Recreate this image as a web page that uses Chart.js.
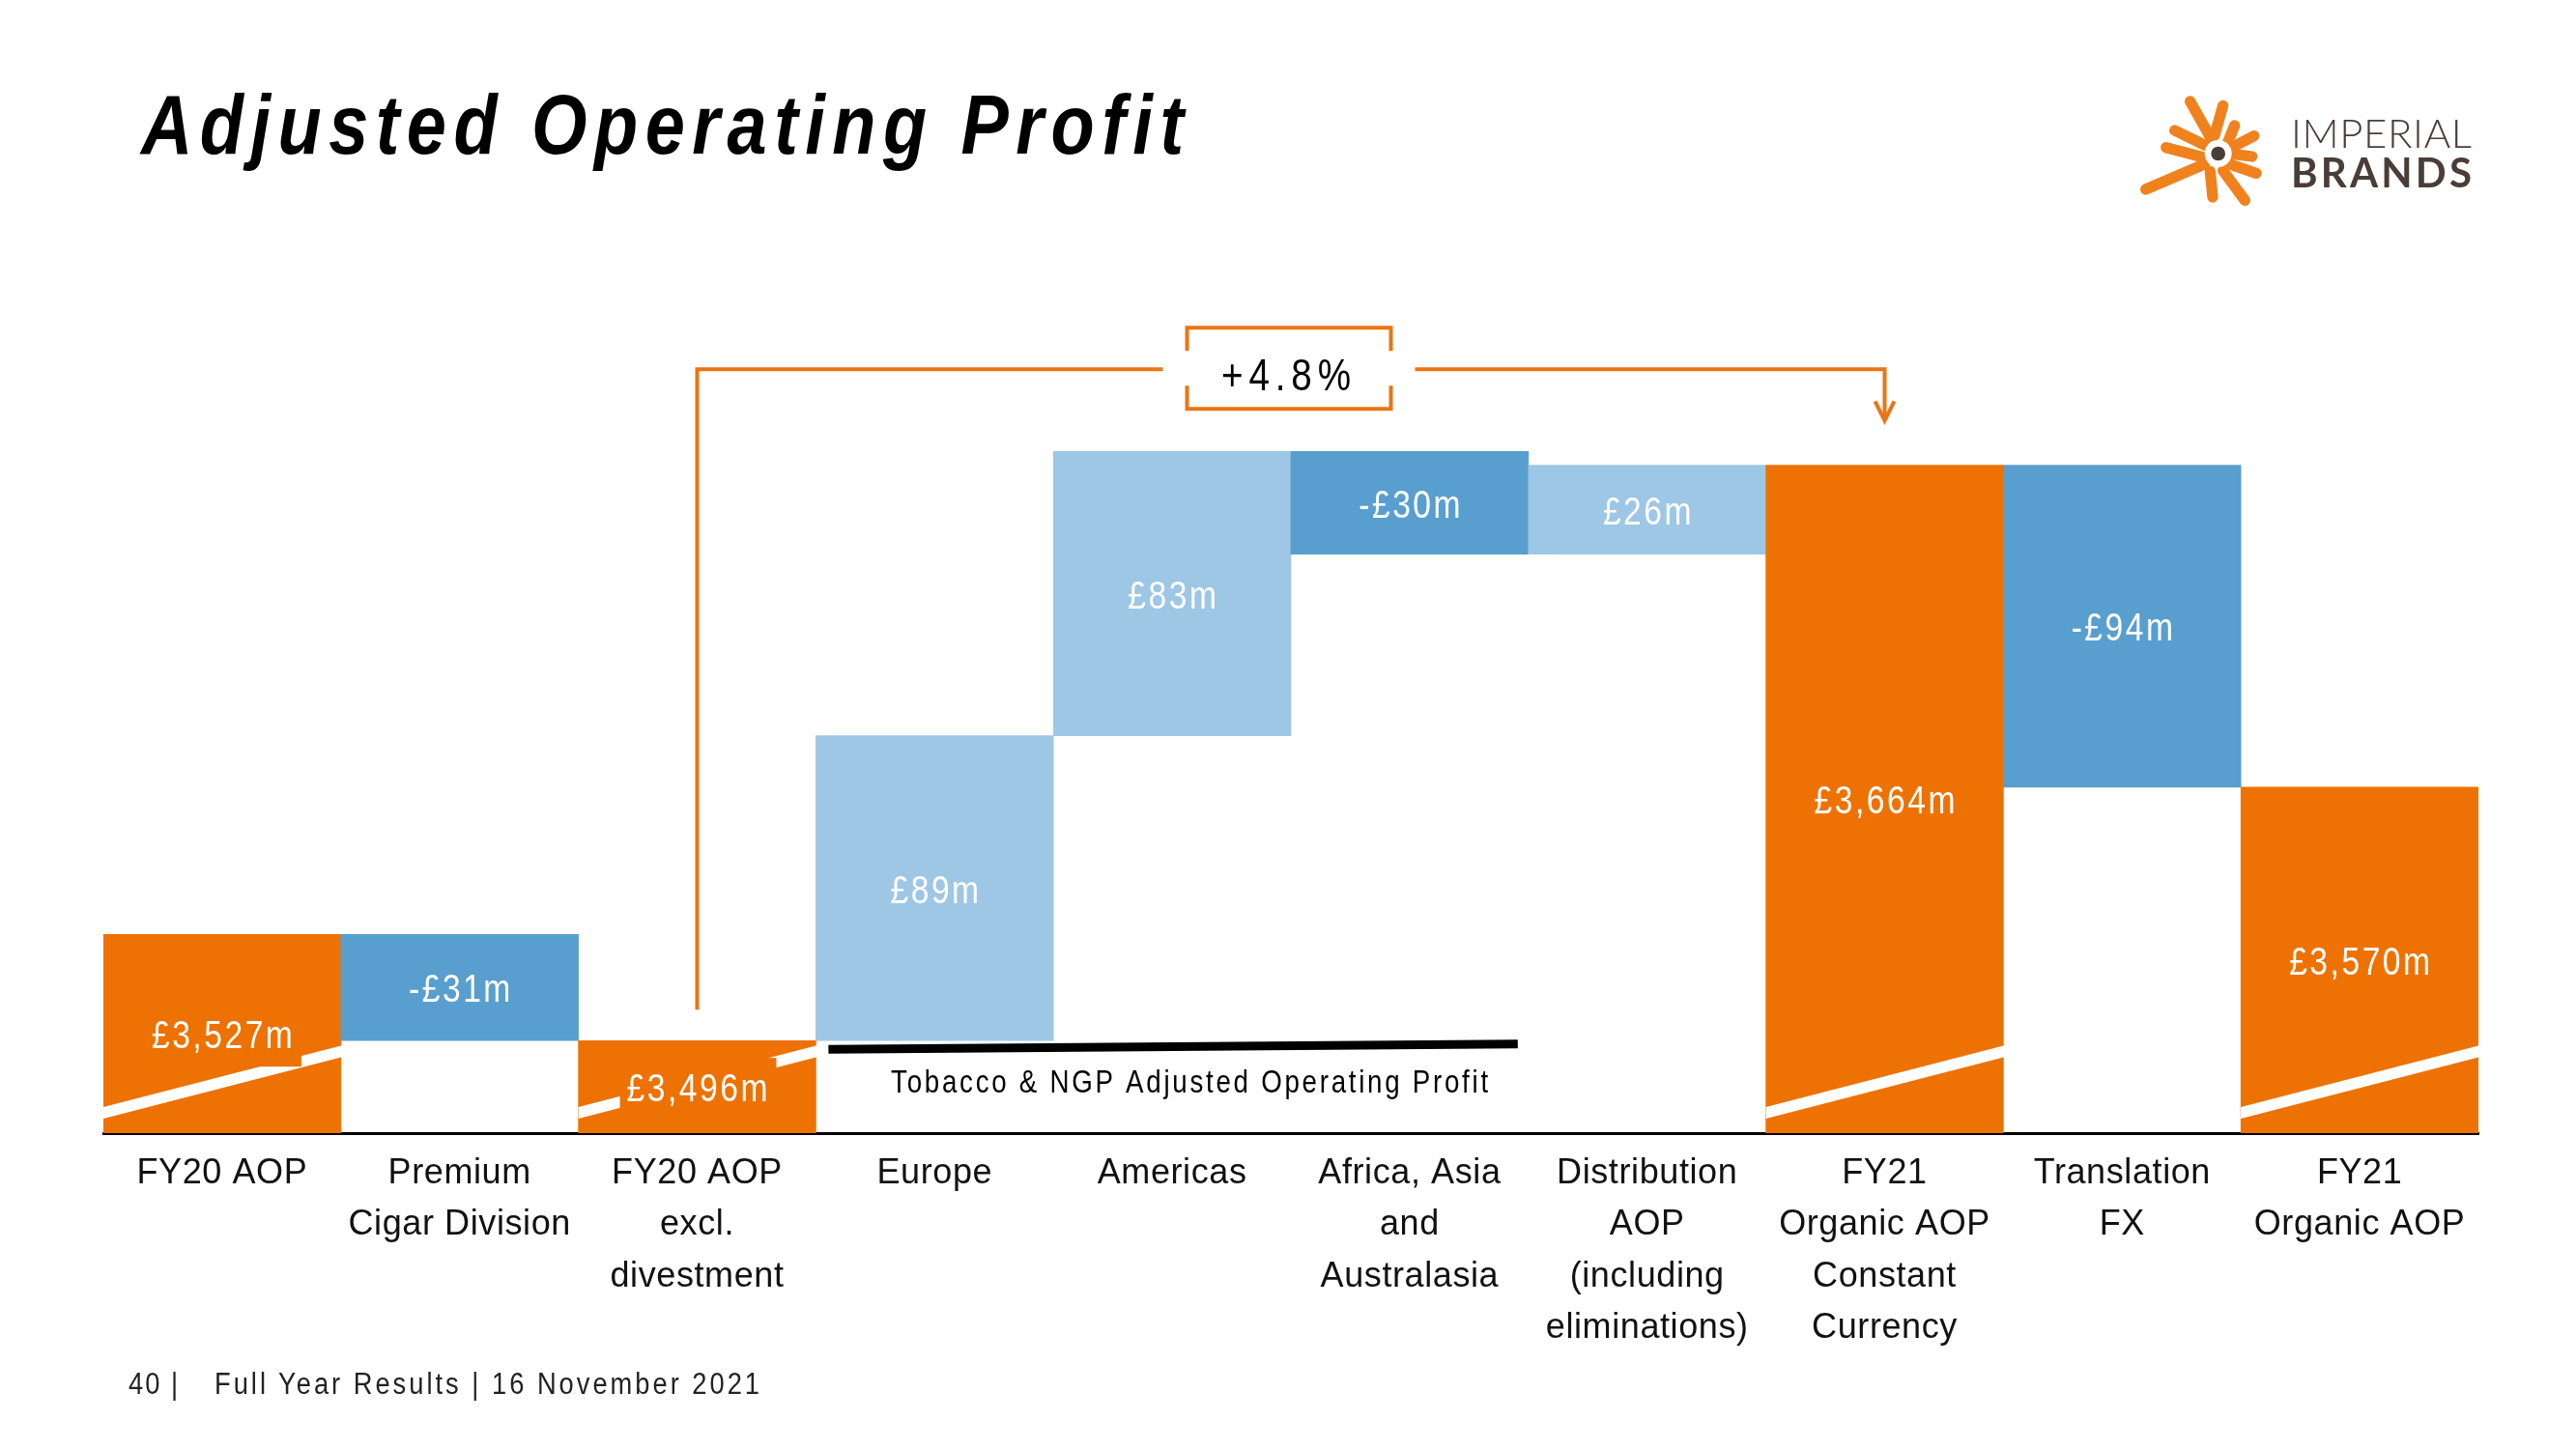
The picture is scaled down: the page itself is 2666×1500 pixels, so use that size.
<!DOCTYPE html>
<html>
<head>
<meta charset="utf-8">
<script src="https://cdn.jsdelivr.net/npm/chart.js@4.4.1/dist/chart.umd.min.js"></script>
<style>
html,body{margin:0;padding:0;background:#fff;}
#wrap{position:relative;width:2666px;height:1500px;overflow:hidden;background:#fff;}
#c{position:absolute;left:0;top:0;width:2666px;height:1500px;}
.t{position:absolute;white-space:nowrap;line-height:1;margin:0;font-family:'Liberation Sans',Arial,sans-serif;transform-origin:0 0;}
#title{left:146px;font-size:88px;font-weight:bold;font-style:italic;color:#000;}
.foot{font-size:31px;color:#222;}
.logo{font-family:Lato,'Open Sans',sans-serif;color:#4a3d37;font-size:42px;}
#logo-svg{position:absolute;left:2200px;top:80px;width:170px;height:150px;}
</style>
</head>
<body>
<div id="wrap">
<canvas id="c" width="2666" height="1500"></canvas>
<div id="title" class="t" data-left="146" data-fit="1079" data-base="159" data-sx="0.84">Adjusted Operating Profit</div>
<div id="f1" class="t foot" data-left="133" data-fit="51" data-base="1443" data-sx="0.88">40 |</div>
<div id="f2" class="t foot" data-left="222" data-fit="564" data-base="1443" data-sx="0.88">Full Year Results | 16 November 2021</div>
<svg id="logo-svg" viewBox="0 0 510 450">
  <g stroke="#F0821E" stroke-width="34" stroke-linecap="round" fill="none">
    <line x1="200" y1="75" x2="262" y2="185"/>
    <line x1="302" y1="88" x2="276" y2="180"/>
    <line x1="152" y1="165" x2="248" y2="212"/>
    <line x1="125" y1="218" x2="245" y2="250"/>
    <line x1="62" y1="348" x2="244" y2="270"/>
    <line x1="262" y1="292" x2="270" y2="372"/>
    <line x1="302" y1="290" x2="370" y2="382"/>
    <line x1="318" y1="268" x2="405" y2="298"/>
    <line x1="338" y1="150" x2="316" y2="204"/>
    <line x1="398" y1="182" x2="326" y2="220"/>
    <line x1="392" y1="246" x2="330" y2="238"/>
  </g>
  <circle cx="287" cy="237" r="42" fill="#fff"/>
  <circle cx="287" cy="237" r="22" fill="#4a3d37"/>
</svg>
<div id="lg1" class="t logo" data-left="2371" data-fit="187" data-base="153" data-sx="1" style="font-weight:300;">IMPERIAL</div>
<div id="lg2" class="t logo" data-left="2371" data-fit="187" data-base="194" data-sx="1" style="font-weight:700;">BRANDS</div>
</div>
<script>
// ---------------- data ----------------
const categories = [
  ['FY20 AOP'],
  ['Premium', 'Cigar Division'],
  ['FY20 AOP', 'excl.', 'divestment'],
  ['Europe'],
  ['Americas'],
  ['Africa, Asia', 'and', 'Australasia'],
  ['Distribution', 'AOP', '(including', 'eliminations)'],
  ['FY21', 'Organic AOP', 'Constant', 'Currency'],
  ['Translation', 'FX'],
  ['FY21', 'Organic AOP']
];
const amounts = [3527, -31, 3496, 89, 83, -30, 26, 3664, -94, 3570];
const barKinds = ['total', 'decrease', 'total', 'increase', 'increase', 'decrease', 'increase', 'total', 'decrease', 'total'];
const valueLabels = ['£3,527m', '-£31m', '£3,496m', '£89m', '£83m', '-£30m', '£26m', '£3,664m', '-£94m', '£3,570m'];
const axisFloor = 3469;
const axisCeiling = 3720;
const growthLabel = '+4.8%';
const growthFromIndex = 2;
const growthToIndex = 7;
const growthLevel = 3692;
const growthStart = 3505;
const growthArrowTip = 3677;
const segmentNote = 'Tobacco & NGP Adjusted Operating Profit';
const segmentFromIndex = 3;
const segmentToIndex = 5;
const segmentLevelLeft = 3493.5;
const segmentLevelRight = 3495;

// ---------------- build ----------------
const colorMap = {total: '#EE7203', decrease: '#589FCF', increase: '#9DC7E4'};
let running = 0;
const ranges = amounts.map((v, i) => {
  if (barKinds[i] === 'total') { running = v; return [axisFloor, v]; }
  const r = [running, running + v];
  running += v;
  return r;
});

const FAM = "'Liberation Sans',Arial,sans-serif";
const ORANGE_LINE = '#EA7514';
const NARROW = 0.84;

function narrowText(ctx, text, cx, y, target, sx) {
  ctx.save();
  ctx.letterSpacing = '0px';
  const w0 = ctx.measureText(text).width;
  const ls = (target / sx - w0) / Math.max(1, text.length - 1);
  ctx.letterSpacing = ls + 'px';
  ctx.textAlign = 'left';
  ctx.translate(cx - target / 2, y);
  ctx.scale(sx, 1);
  ctx.fillText(text, 0, 0);
  ctx.restore();
}
function narrowCentered(ctx, text, cx, y, sx, ls) {
  ctx.save();
  ctx.letterSpacing = ls + 'px';
  const w = (ctx.measureText(text).width - ls) * sx;
  ctx.textAlign = 'left';
  ctx.translate(cx - w / 2, y);
  ctx.scale(sx, 1);
  ctx.fillText(text, 0, 0);
  ctx.restore();
  return w;
}

const deco = {
  id: 'deco',
  beforeDraw(chart) { chart.ctx.letterSpacing = '0.6px'; },
  afterDatasetsDraw(chart) {
    const ctx = chart.ctx;
    const meta = chart.getDatasetMeta(0);
    const y = chart.scales.y;
    ctx.save();
    meta.data.forEach((bar, i) => {
      if (barKinds[i] !== 'total') return;
      const p = bar.getProps(['x', 'width', 'base'], true);
      const l = p.x - p.width / 2, r = p.x + p.width / 2 + 2;
      const rl = 21, rr = 85, th = 12;
      ctx.fillStyle = '#fff';
      ctx.beginPath();
      ctx.moveTo(l, p.base - rl - th / 2);
      ctx.lineTo(r, p.base - rr - th / 2);
      ctx.lineTo(r, p.base - rr + th / 2);
      ctx.lineTo(l, p.base - rl + th / 2);
      ctx.closePath();
      ctx.fill();
    });
    ctx.font = '40px ' + FAM;
    ctx.textBaseline = 'middle';
    meta.data.forEach((bar, i) => {
      const p = bar.getProps(['x', 'y', 'base'], true);
      const cy = (p.y + p.base) / 2;
      ctx.letterSpacing = '3px';
      const w = (ctx.measureText(valueLabels[i]).width - 3) * NARROW;
      if (barKinds[i] === 'total') {
        ctx.fillStyle = colorMap.total;
        ctx.fillRect(p.x - w / 2 - 7, cy - 30, w + 16, 64);
      }
      ctx.fillStyle = '#fff';
      narrowCentered(ctx, valueLabels[i], p.x, cy + 4, NARROW, 3);
    });
    const b1 = meta.data[segmentFromIndex].getProps(['x', 'width'], true);
    const b2 = meta.data[segmentToIndex].getProps(['x', 'width'], true);
    const sx1 = b1.x - b1.width / 2 + 13, sx2 = b2.x + b2.width / 2 - 11;
    ctx.strokeStyle = '#000';
    ctx.lineWidth = 9;
    ctx.beginPath();
    ctx.moveTo(sx1, y.getPixelForValue(segmentLevelLeft));
    ctx.lineTo(sx2, y.getPixelForValue(segmentLevelRight));
    ctx.stroke();
    ctx.font = '33px ' + FAM;
    ctx.fillStyle = '#000';
    ctx.textBaseline = 'alphabetic';
    narrowText(ctx, segmentNote, (sx1 + sx2) / 2 + 17, y.getPixelForValue(segmentLevelLeft) + 45, 618, NARROW);
    ctx.restore();
  },
  afterDraw(chart) {
    const ctx = chart.ctx;
    const meta = chart.getDatasetMeta(0);
    const y = chart.scales.y;
    const xL = meta.data[growthFromIndex].x;
    const xR = meta.data[growthToIndex].x;
    const yl = y.getPixelForValue(growthLevel);
    const ys = y.getPixelForValue(growthStart);
    const yt = y.getPixelForValue(growthArrowTip);
    const cx = (xL + xR) / 2 - 2;
    const bw = 211, bh = 84, gap = 25, tick = 24;
    const bx1 = cx - bw / 2, bx2 = cx + bw / 2;
    const by1 = yl - bh / 2 - 1, by2 = yl + bh / 2 - 1;
    ctx.save();
    ctx.strokeStyle = ORANGE_LINE;
    ctx.lineWidth = 4;
    ctx.lineCap = 'butt';
    ctx.beginPath();
    ctx.moveTo(xL, ys); ctx.lineTo(xL, yl); ctx.lineTo(bx1 - gap, yl);
    ctx.moveTo(bx2 + gap, yl); ctx.lineTo(xR, yl); ctx.lineTo(xR, yt - 2);
    ctx.moveTo(bx1, by1 + tick); ctx.lineTo(bx1, by1); ctx.lineTo(bx2, by1); ctx.lineTo(bx2, by1 + tick);
    ctx.moveTo(bx1, by2 - tick); ctx.lineTo(bx1, by2); ctx.lineTo(bx2, by2); ctx.lineTo(bx2, by2 - tick);
    ctx.stroke();
    ctx.beginPath();
    ctx.moveTo(xR - 10, yt - 20); ctx.lineTo(xR, yt); ctx.lineTo(xR + 10, yt - 20);
    ctx.stroke();
    ctx.font = '46px ' + FAM;
    ctx.fillStyle = '#000';
    ctx.textBaseline = 'alphabetic';
    narrowText(ctx, growthLabel, cx - 3, yl + 22, 134, NARROW);
    ctx.restore();
  }
};

new Chart(document.getElementById('c'), {
  type: 'bar',
  data: {
    labels: categories,
    datasets: [{
      data: ranges,
      backgroundColor: barKinds.map(k => colorMap[k]),
      borderWidth: 0,
      borderSkipped: false,
      categoryPercentage: 1,
      barPercentage: 1
    }]
  },
  options: {
    responsive: false,
    animation: false,
    devicePixelRatio: 1,
    layout: {padding: {left: 107, right: 101, top: 283, bottom: 0}},
    plugins: {legend: {display: false}, tooltip: {enabled: false}},
    scales: {
      x: {
        z: 1,
        grid: {display: false, drawTicks: false},
        border: {display: true, color: '#000', width: 3},
        ticks: {
          color: '#111',
          font: {family: FAM, size: 36, lineHeight: 1.486},
          padding: 15,
          autoSkip: false,
          maxRotation: 0,
          minRotation: 0
        },
        afterFit(s) { s.height = 327; }
      },
      y: {display: false, min: axisFloor, max: axisCeiling}
    }
  },
  plugins: [deco]
});

function placeText(el, ascentRatio) {
  const fs = parseFloat(getComputedStyle(el).fontSize);
  const sx = parseFloat(el.dataset.sx || '1');
  el.style.letterSpacing = '0px';
  el.style.transform = 'none';
  const nat = el.getBoundingClientRect().width;
  const n = el.textContent.length;
  const target = parseFloat(el.dataset.fit);
  const ls = (target / sx - nat) / Math.max(1, n - 1);
  el.style.letterSpacing = ls + 'px';
  el.style.left = el.dataset.left + 'px';
  el.style.top = (parseFloat(el.dataset.base) - ascentRatio * fs) + 'px';
  el.style.transform = 'scaleX(' + sx + ')';
}
placeText(document.getElementById('title'), 0.8465);
placeText(document.getElementById('f1'), 0.8465);
placeText(document.getElementById('f2'), 0.8465);
placeText(document.getElementById('lg1'), 0.887);
placeText(document.getElementById('lg2'), 0.887);
</script>
</body>
</html>
